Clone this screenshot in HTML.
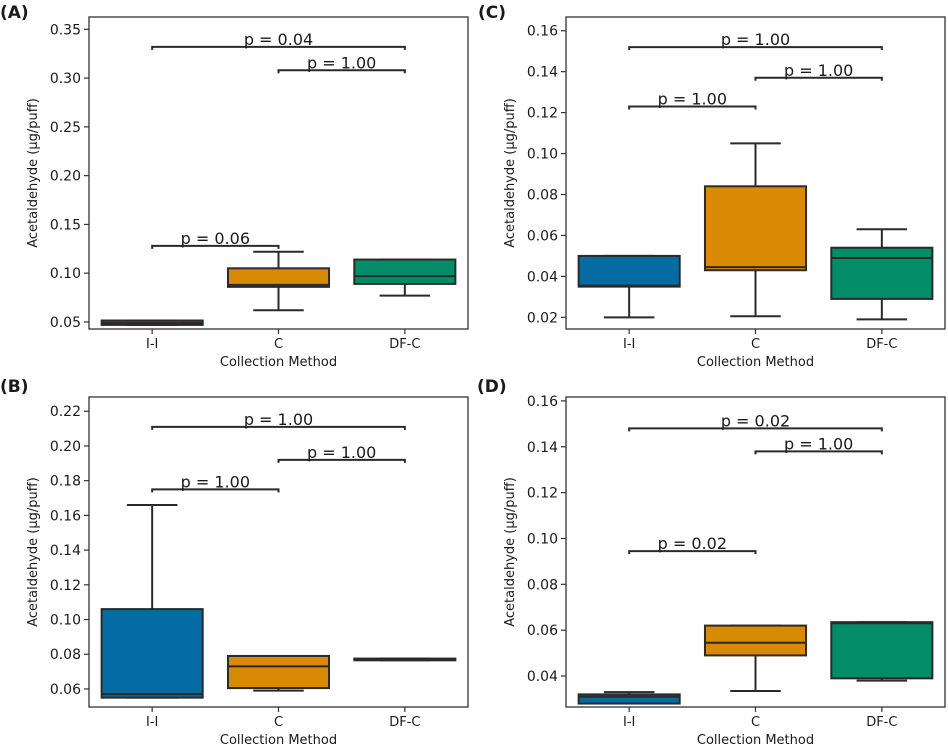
<!DOCTYPE html>
<html><head><meta charset="utf-8">
<style>
body{margin:0;background:#fff;}
svg{display:block;font-family:"DejaVu Sans","Liberation Sans",sans-serif;}
</style></head>
<body>
<svg id="fig" width="948" height="748" viewBox="0 0 948 748"></svg>
<script>
const categories = ["I-I","C","DF-C"];
const colors = ["#056ca3","#d98a04","#038c68"];
// Panel A
const aWhiskerLow = [0.047,0.062,0.077];
const aQ1 = [0.047,0.086,0.089];
const aMedian = [0.049,0.088,0.097];
const aQ3 = [0.0515,0.105,0.114];
const aWhiskerHigh = [0.0515,0.122,0.114];
const aTicks = [0.05,0.10,0.15,0.20,0.25,0.30,0.35];
const aTickLabels = ["0.05","0.10","0.15","0.20","0.25","0.30","0.35"];
const aBracketY = [0.128,0.308,0.332];
const aPLabels = ["p = 0.06","p = 1.00","p = 0.04"];
// Panel B
const bWhiskerLow = [0.055,0.059,0.0765];
const bQ1 = [0.055,0.0605,0.0765];
const bMedian = [0.057,0.073,0.077];
const bQ3 = [0.106,0.079,0.0775];
const bWhiskerHigh = [0.166,0.079,0.0775];
const bTicks = [0.06,0.08,0.10,0.12,0.14,0.16,0.18,0.20,0.22];
const bTickLabels = ["0.06","0.08","0.10","0.12","0.14","0.16","0.18","0.20","0.22"];
const bBracketY = [0.175,0.192,0.211];
const bPLabels = ["p = 1.00","p = 1.00","p = 1.00"];
// Panel C
const cWhiskerLow = [0.020,0.0205,0.019];
const cQ1 = [0.035,0.043,0.029];
const cMedian = [0.0355,0.0445,0.049];
const cQ3 = [0.050,0.084,0.054];
const cWhiskerHigh = [0.050,0.105,0.063];
const cTicks = [0.02,0.04,0.06,0.08,0.10,0.12,0.14,0.16];
const cTickLabels = ["0.02","0.04","0.06","0.08","0.10","0.12","0.14","0.16"];
const cBracketY = [0.123,0.137,0.152];
const cPLabels = ["p = 1.00","p = 1.00","p = 1.00"];
// Panel D
const dWhiskerLow = [0.028,0.0335,0.038];
const dQ1 = [0.028,0.049,0.039];
const dMedian = [0.031,0.0545,0.063];
const dQ3 = [0.032,0.062,0.0635];
const dWhiskerHigh = [0.033,0.062,0.0635];
const dTicks = [0.04,0.06,0.08,0.10,0.12,0.14,0.16];
const dTickLabels = ["0.04","0.06","0.08","0.10","0.12","0.14","0.16"];
const dBracketY = [0.0945,0.138,0.148];
const dPLabels = ["p = 0.02","p = 1.00","p = 0.02"];

const NS="http://www.w3.org/2000/svg";
const svg=document.getElementById('fig');
const LC='#2a2a2a', LW=2;
function mk(tag,attrs,parent,text){const e=document.createElementNS(NS,tag);for(const k in attrs)e.setAttribute(k,attrs[k]);if(text!==undefined)e.textContent=text;parent.appendChild(e);return e;}

function panel(id,letter,box,yMin,yMax,wl,q1,med,q3,wh,ticks,tickLabels,bY,pLab){
  const g=mk('g',{},svg);
  
  
  const {x0,x1,y0,y1,ox,oy}=box;
  const Y=v=>y1-(v-yMin)/(yMax-yMin)*(y1-y0);
  const step=(x1-x0)/3;
  const X=i=>x0+step*(i+0.5);
  const bw=step*0.8;
  const lab=mk('text',{x:ox,y:oy+18,'font-size':17,'font-weight':'bold',fill:'#1a1a1a'},g,'('+letter+')');
  
  
  for(let i=0;i<3;i++){
    const bg=mk('g',{},g);
    
    
    const cx=X(i);
    mk('line',{x1:cx,x2:cx,y1:Y(wl[i]),y2:Y(q1[i]),stroke:LC,'stroke-width':LW},bg);
    mk('line',{x1:cx,x2:cx,y1:Y(q3[i]),y2:Y(wh[i]),stroke:LC,'stroke-width':LW},bg);
    mk('line',{x1:cx-bw/4,x2:cx+bw/4,y1:Y(wl[i]),y2:Y(wl[i]),stroke:LC,'stroke-width':LW},bg);
    mk('line',{x1:cx-bw/4,x2:cx+bw/4,y1:Y(wh[i]),y2:Y(wh[i]),stroke:LC,'stroke-width':LW},bg);
    const h=Math.max(Y(q1[i])-Y(q3[i]),1);
    mk('rect',{x:cx-bw/2,y:Y(q3[i]),width:bw,height:h,fill:colors[i],stroke:LC,'stroke-width':LW},bg);
    mk('line',{x1:cx-bw/2,x2:cx+bw/2,y1:Y(med[i]),y2:Y(med[i]),stroke:LC,'stroke-width':LW},bg);
  }
  const pairs=[[0,1],[1,2],[0,2]];
  for(let k=0;k<3;k++){
    const bg=mk('g',{},g);
    
    
    const xa=X(pairs[k][0]),xb=X(pairs[k][1]),yy=Y(bY[k]);
    mk('polyline',{points:`${xa},${yy+3} ${xa},${yy} ${xb},${yy} ${xb},${yy+3}`,fill:'none',stroke:LC,'stroke-width':LW},bg);
    mk('text',{x:(xa+xb)/2,y:yy-2,'text-anchor':'middle','font-size':16,fill:'#1a1a1a'},bg,pLab[k]);
  }
  const fr=mk('rect',{x:x0,y:y0,width:x1-x0,height:y1-y0,fill:'none',stroke:'#333','stroke-width':1.3},g);
  
  
  const ya=mk('g',{},g);
  
  
  ticks.forEach((t,i)=>{const yy=Y(t);
    mk('line',{x1:x0-5,x2:x0,y1:yy,y2:yy,stroke:'#333','stroke-width':1.2},ya);
    mk('text',{x:x0-8,y:yy+5,'text-anchor':'end','font-size':14,fill:'#1a1a1a'},ya,tickLabels[i]);});
  const yt=mk('text',{transform:`translate(${x0-52},${(y0+y1)/2}) rotate(-90)`,'text-anchor':'middle','font-size':13,fill:'#1a1a1a'},g,'Acetaldehyde (µg/puff)');
  
  
  const xa=mk('g',{},g);
  
  
  categories.forEach((c,i)=>{const cx=X(i);
    mk('line',{x1:cx,x2:cx,y1:y1,y2:y1+5,stroke:'#333','stroke-width':1.2},xa);
    mk('text',{x:cx,y:y1+19,'text-anchor':'middle','font-size':13,fill:'#1a1a1a'},xa,c);});
  const xt=mk('text',{x:(x0+x1)/2,y:y1+37,'text-anchor':'middle','font-size':13,fill:'#1a1a1a'},g,'Collection Method');
  
  
}
panel('a','A',{x0:89,x1:468,y0:17,y1:329,ox:0,oy:0},0.0428,0.3626,aWhiskerLow,aQ1,aMedian,aQ3,aWhiskerHigh,aTicks,aTickLabels,aBracketY,aPLabels);
panel('b','B',{x0:89,x1:468,y0:397,y1:707,ox:0,oy:374},0.0496,0.2282,bWhiskerLow,bQ1,bMedian,bQ3,bWhiskerHigh,bTicks,bTickLabels,bBracketY,bPLabels);
panel('c','C',{x0:566,x1:945,y0:17,y1:329,ox:478,oy:0},0.0143,0.1667,cWhiskerLow,cQ1,cMedian,cQ3,cWhiskerHigh,cTicks,cTickLabels,cBracketY,cPLabels);
panel('d','D',{x0:566,x1:945,y0:397,y1:707,ox:477,oy:374},0.0265,0.1617,dWhiskerLow,dQ1,dMedian,dQ3,dWhiskerHigh,dTicks,dTickLabels,dBracketY,dPLabels);
</script>
</body></html>
